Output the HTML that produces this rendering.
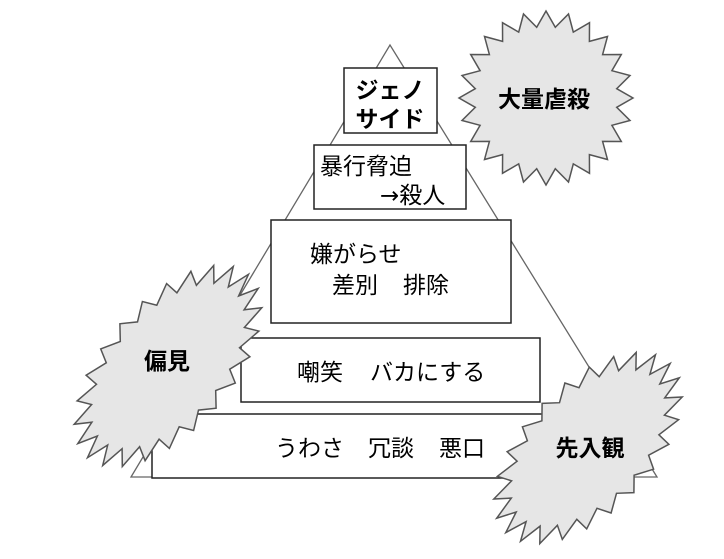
<!DOCTYPE html>
<html><head><meta charset="utf-8"><style>
body{margin:0;background:#fff}
svg text{font-family:"Liberation Sans","Noto Sans CJK JP",sans-serif;font-size:23px;fill:#000}
.b{font-weight:bold}
</style></head><body>
<svg id="s" width="724" height="554" xmlns="http://www.w3.org/2000/svg">
<polygon points="390,45 131,477 657,477" fill="#fff" stroke="#666" stroke-width="1.3"/>
<rect x="344" y="68" width="93" height="65" fill="#fff" stroke="#222" stroke-width="1.5"/>
<rect x="314" y="145" width="152" height="64" fill="#fff" stroke="#222" stroke-width="1.5"/>
<rect x="271" y="220" width="240" height="103" fill="#fff" stroke="#222" stroke-width="1.5"/>
<rect x="241" y="338" width="299" height="64" fill="#fff" stroke="#222" stroke-width="1.5"/>
<rect x="152" y="414" width="478" height="64" fill="#fff" stroke="#222" stroke-width="1.5"/>
<text class="b" x="390" y="98" text-anchor="middle">ジェノ</text>
<text class="b" x="390" y="127" text-anchor="middle">サイド</text>
<text x="320" y="174">暴行脅迫</text>
<text x="380" y="203"><tspan font-family="DejaVu Sans">→</tspan>殺人</text>
<text x="310" y="262">嫌がらせ</text>
<text x="332" y="293">差別</text><text x="403" y="293">排除</text>
<text x="297" y="380">嘲笑</text><text x="370" y="380">バカにする</text>
<text x="275" y="456">うわさ</text><text x="368" y="456">冗談</text><text x="439" y="456">悪口</text>
<g id="stars"></g>
<text class="b" x="544" y="107" text-anchor="middle">大量虐殺</text>
<text class="b" x="167" y="369" text-anchor="middle">偏見</text>
<text class="b" x="590" y="456" text-anchor="middle">先入観</text>
</svg>
<script>
function star(cx,cy,a,b,rot,n,k){
 var p=[];for(var i=0;i<2*n;i++){var t=Math.PI*i/n;var r=i%2?k:1;var x=a*r*Math.cos(t),y=b*r*Math.sin(t);
 var c=Math.cos(rot),s=Math.sin(rot);p.push((cx+x*c-y*s).toFixed(1)+","+(cy+x*s+y*c).toFixed(1));}
 return '<polygon points="'+p.join(" ")+'" fill="#e6e6e6" stroke="#555" stroke-width="1.5"/>';}
document.getElementById("stars").innerHTML=
 star(546,98,87,87,0,24,0.82)+
 star(168,366,122,64,-0.85,24,0.82)+
 star(588,448,118,64,-0.8,24,0.82);
</script>
</body></html>
